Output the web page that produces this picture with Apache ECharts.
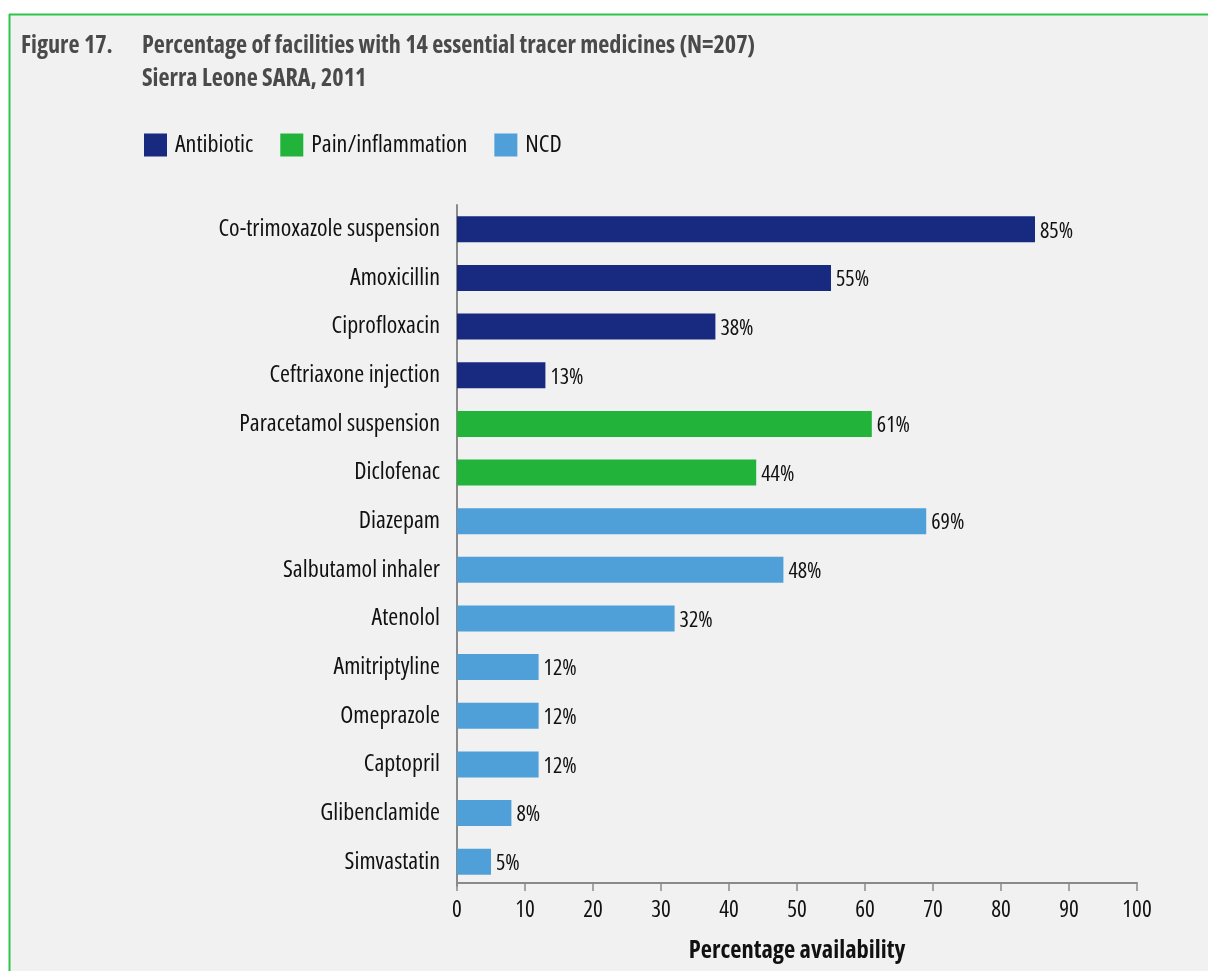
<!DOCTYPE html>
<html>
<head>
<meta charset="utf-8">
<script src="https://cdn.jsdelivr.net/npm/echarts@6/dist/echarts.min.js"></script>
<style>
  html, body { margin: 0; padding: 0; background: #ffffff; }
  #chart { width: 1208px; height: 971px; }
</style>
</head>
<body>
<div id="chart"></div>
<script>
// Tracer medicines, top to bottom
const medicines = [
  'Co-trimoxazole suspension', 'Amoxicillin', 'Ciprofloxacin', 'Ceftriaxone injection',
  'Paracetamol suspension', 'Diclofenac',
  'Diazepam', 'Salbutamol inhaler', 'Atenolol', 'Amitriptyline', 'Omeprazole',
  'Captopril', 'Glibenclamide', 'Simvastatin'
];
// Percentage of facilities with the medicine available
const antibiotic = [85, 55, 38, 13, null, null, null, null, null, null, null, null, null, null];
const painInflammation = [null, null, null, null, 61, 44, null, null, null, null, null, null, null, null];
const ncd = [null, null, null, null, null, null, 69, 48, 32, 12, 12, 12, 8, 5];
const xTicks = [0, 10, 20, 30, 40, 50, 60, 70, 80, 90, 100];

// Condensed width of the Open Sans variable font
const FONT = '"Open Sans", sans-serif';
const STRETCH = 'condensed';
const COLORS = { antibiotic: '#182a80', pain: '#22b33a', ncd: '#4f9fd8' };

const chart = echarts.init(document.getElementById('chart'));

function barSeries(name, data, color) {
  return {
    name: name,
    type: 'bar',
    stack: 'all',
    data: data.map(v => (v === null ? '-' : v)),
    barWidth: 26,
    itemStyle: { color: color },
    label: {
      show: true,
      position: 'right',
      distance: 5,
      offset: [0, 2],
      color: '#111',
      fontFamily: FONT,
      fontStyle: STRETCH,
      fontSize: 22,
      formatter: p => p.value + '%'
    }
  };
}

const titleStyle = {
  fontFamily: FONT, fontStyle: STRETCH, fontSize: 24.2, fontWeight: 'bold',
  color: '#4a4a4a', lineHeight: 33
};

chart.setOption({
  backgroundColor: '#ffffff',
  animation: false,
  graphic: [
    { type: 'rect', z: -10, shape: { x: 9, y: 14, width: 1199, height: 957 }, style: { fill: '#f1f1f1' } },
    { type: 'line', z: -9, shape: { x1: 9, y1: 14.5, x2: 1208, y2: 14.5 }, style: { stroke: '#2ec64a', lineWidth: 2 } },
    { type: 'line', z: -9, shape: { x1: 9.5, y1: 14, x2: 9.5, y2: 971 }, style: { stroke: '#2ec64a', lineWidth: 2 } }
  ],
  title: [
    { text: 'Figure 17.', left: 21, top: 30, padding: 0, textStyle: titleStyle },
    {
      text: 'Percentage of facilities with 14 essential tracer medicines (N=207)\nSierra Leone SARA, 2011',
      left: 142, top: 30, padding: 0, textStyle: titleStyle
    }
  ],
  legend: {
    left: 144, top: 133, padding: 0,
    itemWidth: 23, itemHeight: 23, itemGap: 27,
    icon: 'rect',
    textStyle: { fontFamily: FONT, fontStyle: STRETCH, fontSize: 24, color: '#111', padding: [0, 0, 0, 3] },
    data: ['Antibiotic', 'Pain/inflammation', 'NCD']
  },
  grid: { left: 457, right: 71, top: 205, bottom: 85, containLabel: false },
  xAxis: {
    type: 'value',
    min: 0, max: 100, interval: 10,
    offset: -3,
    axisLine: { show: true, lineStyle: { color: '#8a8a8a', width: 2 } },
    axisTick: { show: true, length: 8, lineStyle: { color: '#8a8a8a', width: 1.5 } },
    splitLine: { show: false },
    axisLabel: {
      fontFamily: FONT, fontStyle: STRETCH, fontSize: 23, color: '#111', margin: 16,
      formatter: v => (xTicks.includes(v) ? String(v) : '')
    },
    name: 'Percentage availability',
    nameLocation: 'middle',
    nameGap: 56,
    nameTextStyle: { fontFamily: FONT, fontStyle: STRETCH, fontSize: 24.5, fontWeight: 'bold', color: '#111' }
  },
  yAxis: {
    type: 'category',
    inverse: true,
    data: medicines,
    axisLine: { show: true, lineStyle: { color: '#8a8a8a', width: 2 } },
    axisTick: { show: false },
    axisLabel: { fontFamily: FONT, fontStyle: STRETCH, fontSize: 24, color: '#111', margin: 17 }
  },
  series: [
    barSeries('Antibiotic', antibiotic, COLORS.antibiotic),
    barSeries('Pain/inflammation', painInflammation, COLORS.pain),
    barSeries('NCD', ncd, COLORS.ncd)
  ]
});
</script>
</body>
</html>
